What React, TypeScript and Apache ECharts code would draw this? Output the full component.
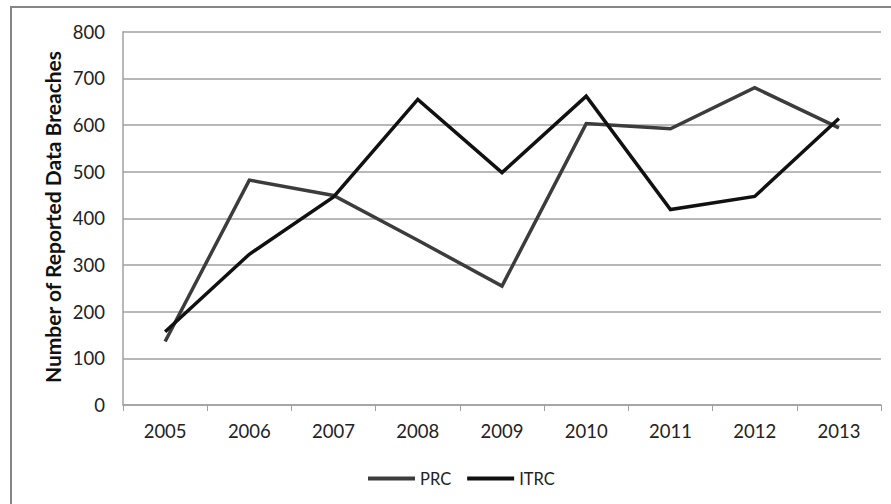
import React, { useEffect, useRef } from "react";
import * as echarts from "echarts";

const years = ["2005", "2006", "2007", "2008", "2009", "2010", "2011", "2012", "2013"];
const prc = [136, 482, 449, 353, 255, 603, 592, 680, 594];
const itrc = [157, 323, 446, 655, 498, 662, 419, 447, 614];
const seriesNames = ["PRC", "ITRC"];
const yAxisTitle = "Number of Reported Data Breaches";

const FONT = "Lato, 'Open Sans', sans-serif";

export default function App() {
  const ref = useRef<HTMLDivElement>(null);

  useEffect(() => {
    if (!ref.current) return;
    const chart = echarts.init(ref.current, null, { renderer: "svg" });
    chart.setOption({
      animation: false,
      backgroundColor: "#ffffff",
      textStyle: { fontFamily: FONT },
      graphic: [
        {
          type: "rect",
          shape: { x: 11, y: 7, width: 900, height: 520 },
          style: { fill: "none", stroke: "#868686", lineWidth: 2 },
          silent: true,
        },
        {
          type: "text",
          x: 52,
          y: 217,
          rotation: Math.PI / 2,
          style: {
            text: yAxisTitle,
            font: `bold 21px ${FONT}`,
            fill: "#111111",
            align: "center",
            verticalAlign: "middle",
          },
        },
      ],
      grid: { left: 123, right: 10, top: 31.7, bottom: 99 },
      legend: {
        data: seriesNames,
        top: 465,
        left: 363,
        itemWidth: 47,
        itemHeight: 4,
        itemGap: 16,
        icon: "rect",
        textStyle: { fontFamily: FONT, fontSize: 16.5, color: "#222" },
      },
      xAxis: {
        type: "category",
        data: years,
        boundaryGap: true,
        axisLine: { lineStyle: { color: "#a0a0a0", width: 1.5 } },
        axisTick: { show: true, length: 6, lineStyle: { color: "#a0a0a0" } },
        axisLabel: { fontFamily: FONT, fontSize: 18.5, color: "#222", margin: 16 },
      },
      yAxis: {
        type: "value",
        min: 0,
        max: 800,
        interval: 100,
        axisLine: { show: true, lineStyle: { color: "#a0a0a0", width: 1.5 } },
        axisTick: { show: false },
        axisLabel: { fontFamily: FONT, fontSize: 18.5, color: "#222", margin: 18 },
        splitLine: { lineStyle: { color: "#a0a0a0", width: 1.5 } },
      },
      series: [
        {
          name: seriesNames[0],
          type: "line",
          data: prc,
          showSymbol: false,
          symbol: "none",
          lineStyle: { color: "#3c3c3c", width: 3.5, join: "miter" },
          itemStyle: { color: "#3c3c3c" },
        },
        {
          name: seriesNames[1],
          type: "line",
          data: itrc,
          showSymbol: false,
          symbol: "none",
          lineStyle: { color: "#111111", width: 3.5, join: "miter" },
          itemStyle: { color: "#111111" },
        },
      ],
    });
    return () => chart.dispose();
  }, []);

  return (
    <div
      ref={ref}
      style={{ position: "fixed", left: 0, top: 0, width: 891, height: 504 }}
    />
  );
}
